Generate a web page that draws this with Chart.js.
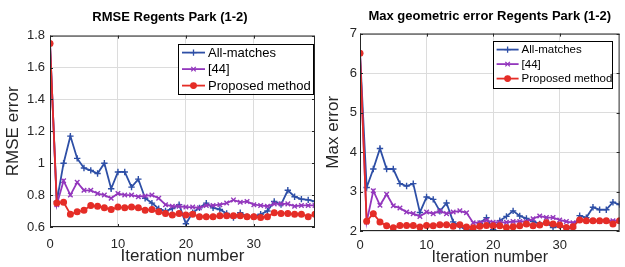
<!DOCTYPE html>
<html>
<head>
<meta charset="utf-8">
<script src="https://cdn.jsdelivr.net/npm/chart.js@4.4.0/dist/chart.umd.min.js"></script>
<style>
  html, body { margin: 0; padding: 0; background: #fff; }
  #wrap { position: relative; width: 625px; height: 267px; overflow: hidden; }
  #c1 { position: absolute; left: 0; top: 0; }
  #c2 { position: absolute; left: 318px; top: 0; }
</style>
</head>
<body>
<div id="wrap">
  <canvas id="c1" width="340" height="267"></canvas>
  <canvas id="c2" width="307" height="267"></canvas>
</div>
<script>
// x values (iteration number)
const iterations = [0,1,2,3,4,5,6,7,8,9,10,11,12,13,14,15,16,17,18,19,
                    20,21,22,23,24,25,26,27,28,29,30,31,32,33,34,35,36,37,38,39];
const seriesNames = ['All-matches', '[44]', 'Proposed method'];

// RMSE Regents Park (1-2)
const rmseAll = [1.75,0.76,1.00,1.17,1.03,0.97,0.955,0.935,1.00,0.84,
                 0.945,0.945,0.85,0.90,0.78,0.75,0.715,0.70,0.715,0.74,
                 0.62,0.69,0.72,0.75,0.72,0.71,0.685,0.66,0.69,0.665,
                 0.665,0.68,0.70,0.76,0.74,0.83,0.79,0.775,0.77,0.76];
const rmse44 = [1.75,0.74,0.89,0.80,0.88,0.83,0.83,0.81,0.80,0.78,
                0.81,0.80,0.80,0.79,0.795,0.80,0.78,0.74,0.73,0.73,
                0.725,0.725,0.72,0.735,0.735,0.74,0.75,0.77,0.755,0.76,
                0.74,0.735,0.73,0.745,0.745,0.745,0.73,0.735,0.735,0.735];
const rmseProp = [1.75,0.75,0.755,0.68,0.695,0.705,0.735,0.73,0.72,0.71,
                  0.725,0.72,0.725,0.72,0.705,0.71,0.695,0.685,0.675,0.685,
                  0.675,0.68,0.665,0.665,0.665,0.67,0.67,0.67,0.67,0.665,
                  0.665,0.66,0.665,0.69,0.685,0.685,0.68,0.68,0.665,0.68];

// Max geometric error Regents Park (1-2)
const maxAll = [6.5,3.10,3.57,4.09,3.57,3.57,3.20,3.14,3.20,2.47,
                2.86,2.80,2.50,2.71,2.23,2.12,2.02,2.02,2.19,2.34,
                2.03,2.26,2.37,2.51,2.38,2.32,2.24,2.18,2.21,2.09,
                2.13,2.07,2.07,2.39,2.34,2.60,2.54,2.54,2.73,2.67];
const max44 = [6.5,2.23,3.02,2.65,2.93,2.64,2.58,2.48,2.44,2.37,
               2.48,2.44,2.50,2.44,2.48,2.51,2.46,2.21,2.21,2.27,
               2.22,2.22,2.22,2.24,2.24,2.24,2.31,2.38,2.34,2.34,
               2.28,2.24,2.21,2.28,2.26,2.26,2.24,2.26,2.26,2.26];
const maxProp = [6.5,2.25,2.44,2.23,2.13,2.08,2.14,2.14,2.14,2.10,
                 2.14,2.13,2.16,2.16,2.12,2.16,2.10,2.08,2.12,2.14,
                 2.13,2.13,2.09,2.11,2.13,2.18,2.13,2.15,2.21,2.18,
                 2.15,2.09,2.11,2.28,2.26,2.26,2.26,2.26,2.18,2.26];

const FONT = "'Liberation Sans', Arial, sans-serif";
const AXIS = '#262626';
const GRID = '#dcdcdc';
const COLORS = ['#2e4fa6', '#9337bd', '#e52d27'];
const STYLES = ['cross', 'crossRot', 'circle'];

// frame with inward tick marks, like matlab's box on
const boxPlugin = {
  id: 'boxFrame',
  afterDraw(chart) {
    const { ctx, chartArea: a, scales } = chart;
    ctx.save();
    ctx.strokeStyle = AXIS;
    ctx.lineWidth = 1;
    ctx.strokeRect(a.left + 0.5, a.top + 0.5, a.right - a.left - 1, a.bottom - a.top - 1);
    ctx.beginPath();
    scales.x.ticks.forEach(t => {
      const px = Math.round(scales.x.getPixelForValue(t.value)) + 0.5;
      ctx.moveTo(px, a.top); ctx.lineTo(px, a.top + 3);
      ctx.moveTo(px, a.bottom); ctx.lineTo(px, a.bottom - 3);
    });
    scales.y.ticks.forEach(t => {
      const py = Math.round(scales.y.getPixelForValue(t.value)) + 0.5;
      ctx.moveTo(a.left, py); ctx.lineTo(a.left + 3, py);
      ctx.moveTo(a.right, py); ctx.lineTo(a.right - 3, py);
    });
    ctx.stroke();
    ctx.restore();
  }
};

// boxed legend inside the axes, top right
const legendPlugin = {
  id: 'boxLegend',
  afterDraw(chart, args, opts) {
    const { ctx, chartArea: a } = chart;
    const x = a.right - opts.right - opts.width;
    const y = a.top + opts.top;
    ctx.save();
    ctx.fillStyle = '#fff';
    ctx.fillRect(x, y, opts.width, opts.height);
    ctx.strokeStyle = '#000';
    ctx.lineWidth = 1;
    ctx.strokeRect(Math.round(x) + 0.5, Math.round(y) + 0.5, opts.width, opts.height);
    ctx.font = opts.fontSize + 'px ' + FONT;
    ctx.textBaseline = 'middle';
    chart.data.datasets.forEach((ds, i) => {
      const ly = y + opts.first + i * opts.step;
      ctx.strokeStyle = ds.borderColor;
      ctx.fillStyle = ds.borderColor;
      ctx.lineWidth = 1.8;
      ctx.beginPath();
      ctx.moveTo(x + 4, ly); ctx.lineTo(x + opts.lineLen + 4, ly);
      ctx.stroke();
      ctx.lineWidth = 1.3;
      Chart.helpers.drawPoint(ctx, { pointStyle: ds.pointStyle, radius: ds.pointRadius, borderWidth: 1.3, rotation: 0 },
        x + 4 + opts.lineLen / 2, ly);
      ctx.fillStyle = '#000';
      ctx.fillText(ds.label, x + opts.lineLen + 7, ly + 0.5);
    });
    ctx.restore();
  }
};

function makeDatasets(values) {
  return values.map((vals, i) => ({
    label: seriesNames[i],
    data: iterations.map((it, k) => ({ x: it, y: vals[k] })),
    borderColor: COLORS[i],
    backgroundColor: COLORS[i],
    pointBackgroundColor: COLORS[i],
    pointBorderColor: COLORS[i],
    pointStyle: STYLES[i],
    pointRadius: i === 2 ? 2.8 : 3.2,
    pointBorderWidth: 1.4,
    borderWidth: 1.8,
    tension: 0,
    order: 2 - i
  }));
}

function makeChart(id, cfg) {
  const scales = {
    x: {
      type: 'linear', min: 0, max: 39,
      ticks: { stepSize: 10, includeBounds: false, maxRotation: 0, autoSkip: false,
               color: AXIS, padding: cfg.xTickPad, font: { family: FONT, size: cfg.tickSize } },
      grid: { color: GRID, drawTicks: false },
      border: { display: false },
      title: { display: true, text: 'Iteration number', color: AXIS,
               font: { family: FONT, size: cfg.xTitleSize }, padding: { top: 0, bottom: cfg.xTitlePad } },
      afterFit: s => { s.height = cfg.xHeight; }
    },
    y: {
      min: cfg.yMin, max: cfg.yMax,
      ticks: { stepSize: cfg.yStep, includeBounds: false, color: AXIS, padding: cfg.yTickPad,
               font: { family: FONT, size: cfg.tickSize },
               callback: v => String(parseFloat(v.toFixed(2))) },
      grid: { color: GRID, drawTicks: false },
      border: { display: false },
      title: { display: true, text: cfg.yTitle, color: AXIS,
               font: { family: FONT, size: cfg.yTitleSize }, padding: { top: cfg.yTitlePad, bottom: 0 } },
      afterFit: s => { s.width = cfg.yWidth; }
    }
  };
  if (cfg.rightGap) {
    // empty spacer on the right so the title centres like the original figure
    scales.spacer = {
      type: 'linear', position: 'right', min: 0, max: 1,
      grid: { display: false }, border: { display: false }, ticks: { display: false },
      afterFit: s => { s.width = cfg.rightGap; }
    };
  }
  return new Chart(document.getElementById(id), {
    type: 'line',
    data: { datasets: makeDatasets(cfg.values) },
    options: {
      responsive: false,
      animation: false,
      devicePixelRatio: 1,
      layout: { padding: cfg.padding },
      plugins: {
        legend: { display: false },
        tooltip: { enabled: false },
        title: {
          display: true, text: cfg.title, color: '#000', fullSize: cfg.titleFull,
          font: { family: FONT, size: 13, weight: 'bold' },
          padding: cfg.titlePad
        },
        boxLegend: cfg.legend
      },
      scales: scales
    },
    plugins: [boxPlugin, legendPlugin]
  });
}

makeChart('c1', {
  values: [rmseAll, rmse44, rmseProp],
  title: 'RMSE Regents Park (1-2)',
  titleFull: true,
  titlePad: { top: 10, bottom: 10 },
  padding: { top: 0, right: 0, bottom: 0, left: 0 },
  rightGap: 25,
  yTitle: 'RMSE error', yMin: 0.6, yMax: 1.8, yStep: 0.2,
  yWidth: 50, yTickPad: 5, yTitlePad: 3, yTitleSize: 17,
  xHeight: 40, xTickPad: 10, xTitlePad: 0, xTitleSize: 17,
  tickSize: 13,
  legend: { right: 2, top: 8, width: 135, height: 50, first: 9, step: 16.5, lineLen: 23, fontSize: 13 }
});

makeChart('c2', {
  values: [maxAll, max44, maxProp],
  title: 'Max geometric error Regents Park (1-2)',
  titleFull: false,
  titlePad: { top: 9, bottom: 9 },
  padding: { top: 0, right: 0, bottom: 0, left: 0 },
  rightGap: 0,
  yTitle: 'Max error', yMin: 2, yMax: 7, yStep: 1,
  yWidth: 42, yTickPad: 3, yTitlePad: 5, yTitleSize: 17,
  xHeight: 36, xTickPad: 7, xTitlePad: 0, xTitleSize: 16,
  tickSize: 13,
  legend: { right: 8, top: 7, width: 119, height: 47, first: 9, step: 14.5, lineLen: 22, fontSize: 11.5 }
});
</script>
</body>
</html>
